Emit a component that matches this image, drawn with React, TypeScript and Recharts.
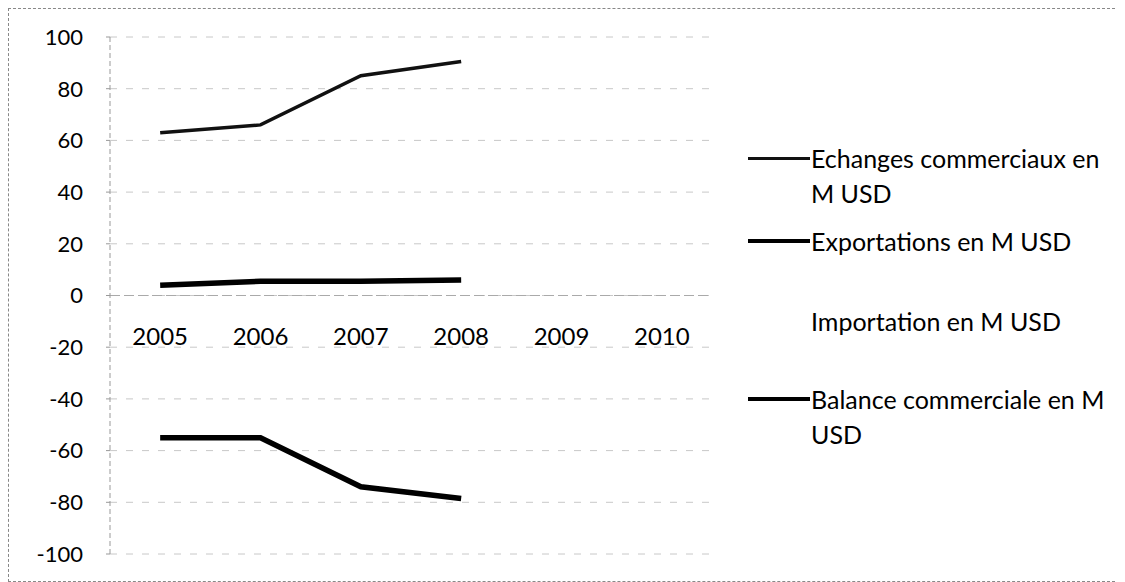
import { CartesianGrid, Line, LineChart, ReferenceLine, XAxis, YAxis } from 'recharts';

const years = ['2005', '2006', '2007', '2008', '2009', '2010'];
const echanges = [63, 66, 85, 90.5, null, null];
const exportations = [4, 5.5, 5.5, 6, null, null];
const importations = [59, 60.5, 79.5, 84.5, null, null];
const balance = [-55, -55, -74, -78.5, null, null];
const yTicks = [-100, -80, -60, -40, -20, 0, 20, 40, 60, 80, 100];

const data = years.map((year, i) => ({
  year,
  echanges: echanges[i],
  exportations: exportations[i],
  importations: importations[i],
  balance: balance[i],
}));

const series = [
  { key: 'echanges', name: 'Echanges commerciaux en M USD', color: '#111', width: 3.5 },
  { key: 'exportations', name: 'Exportations en M USD', color: '#000', width: 5.5 },
  { key: 'importations', name: 'Importation en M USD', color: 'none', width: 0 },
  { key: 'balance', name: 'Balance commerciale en M USD', color: '#000', width: 5.5 },
];

const FONT = 'Lato, "Open Sans", sans-serif';

const CHART_W = 1115;
const CHART_H = 572;
const MARGIN = { top: 28, right: 412, bottom: 26, left: 41 };

// labels sit just under the zero line, like the Excel original
const YearTick = ({ x, payload }: any) => {
  const plotH = CHART_H - MARGIN.top - MARGIN.bottom - 1;
  const zeroY = MARGIN.top + plotH / 2;
  return (
    <text x={x} y={zeroY + 43} textAnchor="middle" dominantBaseline="middle" fontSize={24} fill="#000" fontFamily={FONT}>
      {payload.value}
    </text>
  );
};

// first-line centre of each legend row, in px from the chart top
const legendRows = [
  { center: 149, lines: ['Echanges commerciaux en', 'M USD'] },
  { center: 232, lines: ['Exportations en M USD'] },
  { center: 312, lines: ['Importation en M USD'] },
  { center: 390, lines: ['Balance commerciale en M', 'USD'] },
];

const LINE_H = 35;

const App = () => {
  return (
    <div
      style={{
        position: 'relative',
        width: CHART_W,
        height: CHART_H,
        border: '1px dashed #888',
        background: '#fff',
        fontFamily: FONT,
      }}
    >
      <LineChart width={CHART_W} height={CHART_H} data={data} margin={MARGIN}>
        <CartesianGrid vertical={false} stroke="#c8c8c8" strokeDasharray="7 9" />
        <XAxis
          dataKey="year"
          scale="band"
          height={1}
          axisLine={false}
          tickLine={false}
          tick={<YearTick />}
          interval={0}
        />
        <YAxis
          width={60}
          domain={[-100, 100]}
          ticks={yTicks}
          interval={0}
          axisLine={{ stroke: '#999', strokeDasharray: '5 3' }}
          tickLine={{ stroke: '#999' }}
          tickSize={4}
          tickMargin={23}
          tick={{ fontSize: 22, fill: '#000', fontFamily: FONT }}
        />
        <ReferenceLine y={0} stroke="#aaa" strokeDasharray="10 4" />
        {series.map((s) => (
          <Line
            key={s.key}
            type="linear"
            dataKey={s.key}
            name={s.name}
            stroke={s.color}
            strokeWidth={s.width}
            dot={false}
            activeDot={false}
            isAnimationActive={false}
          />
        ))}
      </LineChart>
      {series.map((s, i) => (
        <div key={s.key}>
          {s.color !== 'none' && (
            <div
              style={{
                position: 'absolute',
                left: 739,
                width: 62,
                top: legendRows[i].center - (s.width >= 4 ? 2 : 1.5),
                height: s.width >= 4 ? 4 : 3,
                background: s.color,
              }}
            />
          )}
          <div
            style={{
              position: 'absolute',
              left: 802,
              top: legendRows[i].center - LINE_H / 2,
              fontSize: 25,
              lineHeight: `${LINE_H}px`,
              color: '#000',
              whiteSpace: 'nowrap',
            }}
          >
            {legendRows[i].lines.map((l) => (
              <div key={l}>{l}</div>
            ))}
          </div>
        </div>
      ))}
    </div>
  );
};

export default App;
